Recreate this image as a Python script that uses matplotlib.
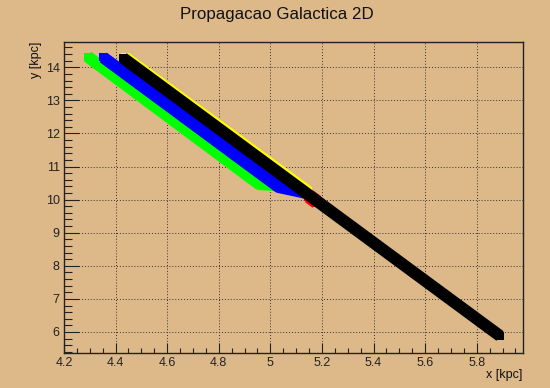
import matplotlib
matplotlib.use("Agg")
import matplotlib.pyplot as plt
from matplotlib.ticker import MultipleLocator, FuncFormatter

plt.rcParams['font.family'] = ['Liberation Sans', 'DejaVu Sans']

# ---- data ----
green_x = [4.292, 4.956, 5.10]
green_y = [14.32, 10.47, 10.40]
blue_x = [4.352, 5.032, 5.14]
blue_y = [14.30, 10.38, 10.20]
yellow_x = [4.437, 5.145]
yellow_y = [14.30, 10.25]
red_x = [5.15, 5.18]
red_y = [10.10, 9.93]
black_x = [4.429, 5.89]
black_y = [14.28, 5.88]

title = "Propagacao Galactica 2D"
xlabel = "x [kpc]"
ylabel = "y [kpc]"

bg = '#ddb98a'
W, H = 550, 388
fig = plt.figure(figsize=(W / 100, H / 100), dpi=100, facecolor=bg)
left, right, top, bottom = 64, 522.7, 41.7, 352.7
ax = fig.add_axes([left / W, 1 - bottom / H, (right - left) / W, (bottom - top) / H])
ax.set_facecolor(bg)

lw = 8.6
ms = 6.1
series = [
    (green_x, green_y, '#00ff00', 1.0),
    (blue_x, blue_y, '#0000ff', 1.0),
    (red_x, red_y, '#ff0000', 1.2),
    (yellow_x, yellow_y, '#ffff00', 1.0),
    (black_x, black_y, '#000000', 1.0),
]
for i, (xs, ys, c, f) in enumerate(series):
    ax.plot(xs, ys, color=c, lw=lw * f, solid_capstyle='butt', solid_joinstyle='round',
            zorder=3 + i)
    ax.plot([xs[0], xs[-1]], [ys[0], ys[-1]], ls='none', marker='s', ms=ms * f,
            mfc=c, mec=c, mew=0, zorder=3 + i)

ax.set_xlim(4.2, 5.978)
ax.set_ylim(5.374, 14.774)

ax.xaxis.set_major_locator(MultipleLocator(0.2))
ax.xaxis.set_minor_locator(MultipleLocator(0.05))
ax.yaxis.set_major_locator(MultipleLocator(1))
ax.yaxis.set_minor_locator(MultipleLocator(0.2))
ax.xaxis.set_major_formatter(FuncFormatter(lambda v, p: f"{v:g}"))
ax.yaxis.set_major_formatter(FuncFormatter(lambda v, p: f"{v:g}"))

ax.tick_params(axis='x', which='major', direction='in', length=7.2, width=0.8, labelsize=9, pad=3,
               top=False, colors='#222222')
ax.tick_params(axis='x', which='minor', direction='in', length=3.6, width=0.8, top=False, colors='#222222')
ax.tick_params(axis='y', which='major', direction='in', length=10.8, width=0.8, labelsize=9, pad=3,
               right=False, colors='#222222')
ax.tick_params(axis='y', which='minor', direction='in', length=5.4, width=0.8, right=False, colors='#222222')

ax.grid(True, which='major', color='#333333', lw=0.7, ls=(0, (1, 2)), zorder=1)
ax.set_axisbelow(True)
for s in ax.spines.values():
    s.set_color('#222222')
    s.set_linewidth(1.0)
    s.set_zorder(20)

fig.text(277 / W, 1 - 15 / H, title, ha='center', va='center', fontsize=12.2, color='#111111')
fig.text(right / W, 1 - 375 / H, xlabel, ha='right', va='center', fontsize=9, color='#111111')
fig.text(36 / W, 1 - top / H, ylabel, ha='center', va='top', rotation=90, fontsize=9, color='#111111')

fig.savefig('out.png', dpi=100, facecolor=bg)
